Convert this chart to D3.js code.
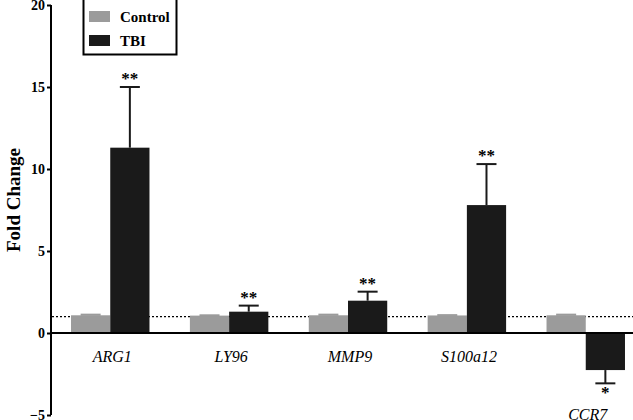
<!DOCTYPE html>
<html>
<head>
<meta charset="utf-8">
<script src="https://cdn.jsdelivr.net/npm/d3@7"></script>
<style>
  body { margin: 0; background: #fff; }
</style>
</head>
<body>
<script>
// data
const genes = ["ARG1", "LY96", "MMP9", "S100a12", "CCR7"];
const controlVals = [1.08, 1.06, 1.08, 1.07, 1.08];
const controlErr = [0.1, 0.08, 0.1, 0.08, 0.1];
const tbiVals = [11.3, 1.3, 1.97, 7.8, -2.26];
const tbiErr = [3.7, 0.37, 0.55, 2.5, 0.81];
const stars = ["**", "**", "**", "**", "*"];
const yTicks = [-5, 0, 5, 10, 15, 20];

const width = 633, height = 420;
const grey = "#9b9b9b", black = "#1a1a1a";
const serif = '"Liberation Serif"';

const svg = d3.select("body").append("svg")
    .attr("width", width)
    .attr("height", height);

const y = d3.scaleLinear().domain([-5, 20]).range([415, 5]);
const x = d3.scaleBand().domain(genes).range([52, 644]).paddingInner(0.34).paddingOuter(0.16);
const sub = d3.scaleBand().domain(["Control", "TBI"]).range([0, x.bandwidth()]);

// reference line at 1
svg.append("line")
    .attr("x1", 52).attr("x2", width)
    .attr("y1", y(1)).attr("y2", y(1))
    .attr("stroke", "#000").attr("stroke-width", 1.2)
    .attr("stroke-dasharray", "2,2");

// control bars
svg.selectAll(".ctrl")
    .data(genes)
    .enter()
    .append("rect")
    .attr("x", d => x(d) + sub("Control"))
    .attr("width", sub.bandwidth())
    .attr("y", (d, i) => y(controlVals[i]))
    .attr("height", (d, i) => y(0) - y(controlVals[i]))
    .attr("fill", grey);

svg.selectAll(".ctrlErr")
    .data(genes)
    .enter()
    .append("rect")
    .attr("x", d => x(d) + sub("Control") + sub.bandwidth() / 2 - 10)
    .attr("width", 20)
    .attr("y", (d, i) => y(controlVals[i] + controlErr[i]))
    .attr("height", (d, i) => y(controlVals[i]) - y(controlVals[i] + controlErr[i]) + 0.5)
    .attr("fill", grey);

// TBI bars
svg.selectAll(".tbi")
    .data(genes)
    .enter()
    .append("rect")
    .attr("x", d => x(d) + sub("TBI"))
    .attr("width", sub.bandwidth())
    .attr("y", (d, i) => y(Math.max(0, tbiVals[i])))
    .attr("height", (d, i) => Math.abs(y(tbiVals[i]) - y(0)))
    .attr("fill", black);

// TBI error bars
const errEnd = (i) => tbiVals[i] + Math.sign(tbiVals[i]) * tbiErr[i];
const cx = d => x(d) + sub("TBI") + sub.bandwidth() / 2;

svg.selectAll(".errLine")
    .data(genes)
    .enter()
    .append("line")
    .attr("x1", cx).attr("x2", cx)
    .attr("y1", (d, i) => y(tbiVals[i]))
    .attr("y2", (d, i) => y(errEnd(i)))
    .attr("stroke", black).attr("stroke-width", 2);

svg.selectAll(".errCap")
    .data(genes)
    .enter()
    .append("line")
    .attr("x1", d => cx(d) - 10).attr("x2", d => cx(d) + 10)
    .attr("y1", (d, i) => y(errEnd(i)))
    .attr("y2", (d, i) => y(errEnd(i)))
    .attr("stroke", black).attr("stroke-width", 2);

// significance stars
svg.selectAll(".star")
    .data(genes)
    .enter()
    .append("text")
    .attr("x", cx)
    .attr("y", (d, i) => tbiVals[i] >= 0 ? y(errEnd(i)) - 3 : y(errEnd(i)) + 15)
    .attr("text-anchor", "middle")
    .style("font-family", serif)
    .attr("font-size", 17)
    .attr("font-weight", "bold")
    .text((d, i) => stars[i]);

// zero axis
svg.append("line")
    .attr("x1", 51).attr("x2", width)
    .attr("y1", y(0)).attr("y2", y(0))
    .attr("stroke", "#000").attr("stroke-width", 2);

// y axis
const yAxis = svg.append("g")
    .attr("transform", "translate(51,0)")
    .call(d3.axisLeft(y).tickValues(yTicks).tickSize(4).tickPadding(2));
yAxis.select(".domain").attr("stroke-width", 2).attr("d", `M0,${y(-5)}V${y(20)}`);
yAxis.selectAll(".tick line").attr("stroke-width", 2);
yAxis.selectAll("text")
    .style("font-family", serif)
    .attr("font-size", 14)
    .attr("font-weight", "bold")
    .attr("fill", "#000");

svg.append("text")
    .attr("transform", "translate(20,200) rotate(-90)")
    .attr("text-anchor", "middle")
    .style("font-family", serif)
    .attr("font-size", 19)
    .attr("font-weight", "bold")
    .text("Fold Change");

// gene labels
svg.selectAll(".gene")
    .data(genes)
    .enter()
    .append("text")
    .attr("x", d => x(d) + x.bandwidth() / 2 + 2)
    .attr("y", (d, i) => tbiVals[i] >= 0 ? 362 : 420)
    .attr("text-anchor", "middle")
    .style("font-family", serif)
    .attr("font-size", 16)
    .attr("font-style", "italic")
    .text(d => d);

// legend
const legend = svg.append("g");
legend.append("rect")
    .attr("x", 83).attr("y", 0).attr("width", 94).attr("height", 55)
    .attr("fill", "#fff");
const legendItems = [["Control", grey], ["TBI", black]];
legendItems.forEach(function (item, i) {
    legend.append("rect")
        .attr("x", 89).attr("y", 11 + i * 24).attr("width", 21).attr("height", 11)
        .attr("fill", item[1]);
    legend.append("text")
        .attr("x", 120).attr("y", 22 + i * 24)
        .style("font-family", serif)
        .attr("font-size", 15)
        .attr("font-weight", "bold")
        .text(item[0]);
});
legend.append("path")
    .attr("d", "M83.5,0V54.5H176.5V0")
    .attr("fill", "none")
    .attr("stroke", "#000")
    .attr("stroke-width", 2);
</script>
</body>
</html>
